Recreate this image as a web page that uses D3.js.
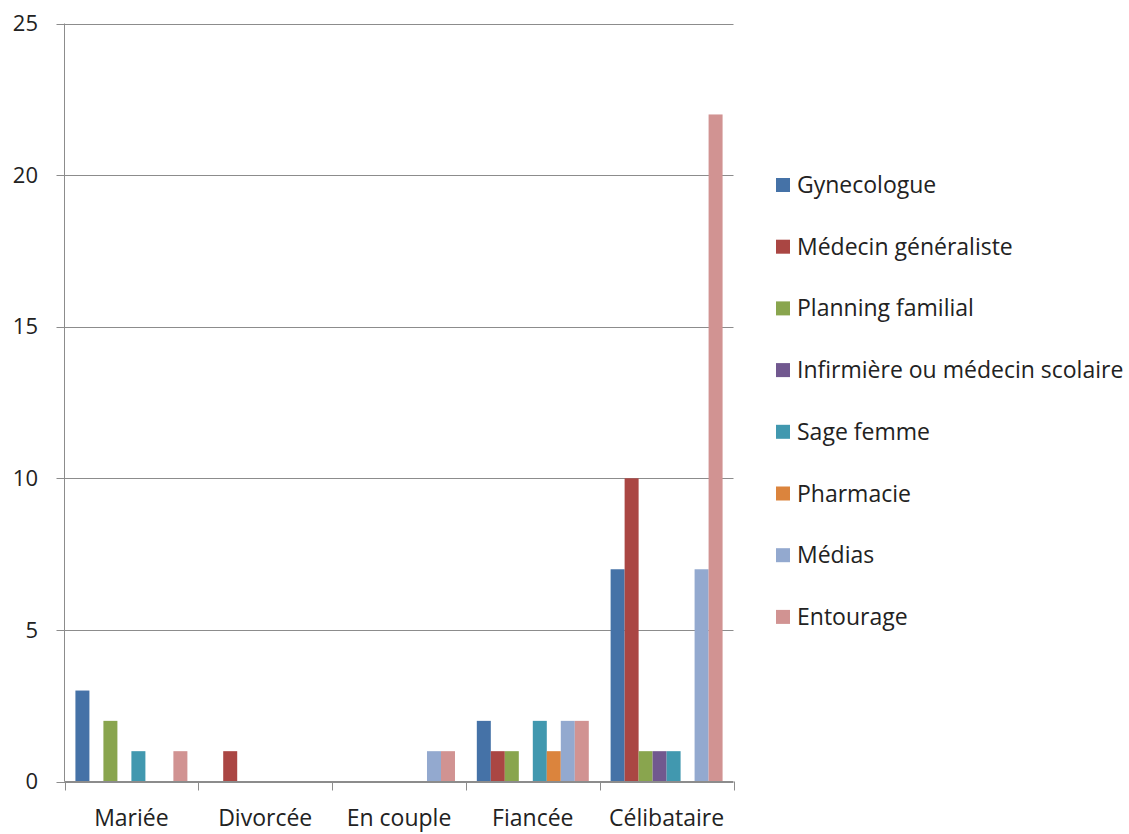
<!DOCTYPE html>
<html>
<head>
<meta charset="utf-8">
<script src="https://cdn.jsdelivr.net/npm/d3@7"></script>
<style>
  html, body { margin: 0; padding: 0; background: #fff; }
  svg { display: block; font-family: "Open Sans", Lato, sans-serif; }
</style>
</head>
<body>
<svg id="chart" width="1129" height="834"></svg>
<script>
// Situation categories along the x axis
const categories = ["Mariée", "Divorcée", "En couple", "Fiancée", "Célibataire"];

// One list per information source, values in category order
const seriesNames = [
  "Gynecologue", "Médecin généraliste", "Planning familial",
  "Infirmière ou médecin scolaire", "Sage femme", "Pharmacie", "Médias", "Entourage"
];
const gynecologue = [3, 0, 0, 2, 7];
const medecinGeneraliste = [0, 1, 0, 1, 10];
const planningFamilial = [2, 0, 0, 1, 1];
const infirmiereScolaire = [0, 0, 0, 0, 1];
const sageFemme = [1, 0, 0, 2, 1];
const pharmacie = [0, 0, 0, 1, 0];
const medias = [0, 0, 1, 2, 7];
const entourage = [1, 0, 1, 2, 22];

const yTicks = [0, 5, 10, 15, 20, 25];
const colors = ["#4572A7", "#AA4643", "#89A54E", "#71588F", "#4198AF", "#DB843D", "#93A9CF", "#D19392"];

const seriesValues = [gynecologue, medecinGeneraliste, planningFamilial, infirmiereScolaire,
                      sageFemme, pharmacie, medias, entourage];

const svg = d3.select("#chart");
const plot = { left: 64.5, right: 733.5, top: 23.5, bottom: 781.5 };

const x = d3.scaleBand().domain(categories).range([plot.left, plot.right]);
const x1 = d3.scaleBand().domain(seriesNames).range([0, x.bandwidth()]).paddingOuter(0.78);
const y = d3.scaleLinear().domain([0, 25]).range([plot.bottom, plot.top]);

// Horizontal gridlines with short tick stubs left of the axis
svg.append("g").selectAll("line").data(yTicks).join("line")
  .attr("x1", plot.left - 8).attr("x2", plot.right)
  .attr("y1", d => Math.round(y(d)) + 0.5).attr("y2", d => Math.round(y(d)) + 0.5)
  .attr("stroke", "#8c8c8c").attr("stroke-width", 1);

// Y tick labels
svg.append("g").selectAll("text").data(yTicks).join("text")
  .attr("x", 38).attr("y", d => y(d))
  .attr("dy", "0.35em").attr("text-anchor", "end")
  .attr("font-size", 22).attr("fill", "#222")
  .text(d => d);

// Bars
const groups = svg.append("g").selectAll("g").data(categories).join("g")
  .attr("transform", d => `translate(${x(d)},0)`);
groups.selectAll("rect")
  .data((c, ci) => seriesNames.map((s, si) => ({ s, si, v: seriesValues[si][ci] })))
  .join("rect")
  .attr("x", d => x1(d.s))
  .attr("width", x1.bandwidth())
  .attr("y", d => y(d.v))
  .attr("height", d => y(0) - y(d.v))
  .attr("fill", d => colors[d.si]);

// Axis lines
svg.append("line")
  .attr("x1", plot.left).attr("x2", plot.left)
  .attr("y1", plot.top).attr("y2", plot.bottom)
  .attr("stroke", "#8c8c8c");
svg.append("line")
  .attr("x1", plot.left).attr("x2", plot.right)
  .attr("y1", plot.bottom).attr("y2", plot.bottom)
  .attr("stroke", "#8c8c8c");

// Category boundary ticks
const boundaries = categories.map(c => x(c)).concat([plot.right]);
svg.append("g").selectAll("line").data(boundaries).join("line")
  .attr("x1", d => Math.round(d) + 0.5).attr("x2", d => Math.round(d) + 0.5)
  .attr("y1", plot.bottom).attr("y2", plot.bottom + 9)
  .attr("stroke", "#8c8c8c");

// Category labels
svg.append("g").selectAll("text").data(categories).join("text")
  .attr("x", d => x(d) + x.bandwidth() / 2)
  .attr("y", 826)
  .attr("text-anchor", "middle")
  .attr("font-size", 23).attr("fill", "#222")
  .text(d => d);

// Legend
const legend = svg.append("g").selectAll("g").data(seriesNames).join("g")
  .attr("transform", (d, i) => `translate(776, ${185 + i * 61.7})`);
legend.append("rect")
  .attr("x", 0).attr("y", -7).attr("width", 14).attr("height", 14)
  .attr("fill", (d, i) => colors[i]);
legend.append("text")
  .attr("x", 21).attr("y", 0).attr("dy", "0.35em")
  .attr("font-size", 23).attr("fill", "#222")
  .text(d => d);
</script>
</body>
</html>
